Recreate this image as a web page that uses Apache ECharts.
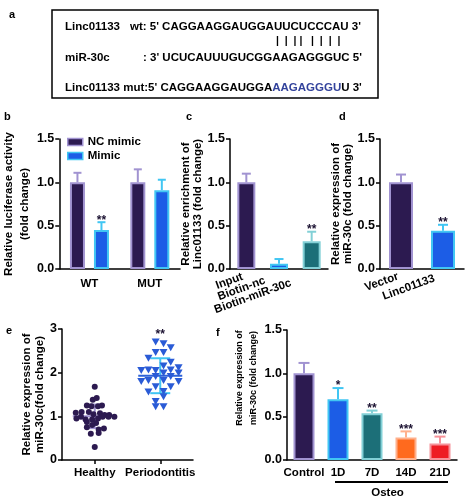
<!DOCTYPE html>
<html><head><meta charset="utf-8">
<script src="https://cdn.jsdelivr.net/npm/echarts@6/dist/echarts.min.js"></script>
<style>html,body{margin:0;padding:0;background:#fff}#c{width:472px;height:500px}</style>
</head><body><div id="c"></div>
<script>
// ---------- data ----------
// panel b
const bCategories = ['WT', 'MUT'];
const bSeriesNames = ['NC mimic', 'Mimic'];
const bNC = [1.0, 1.0];
const bNCsd = [0.11, 0.15];
const bMimic = [0.45, 0.91];
const bMimicSd = [0.09, 0.12];
const bMimicSig = ['**', ''];
// panel c
const cCategories = ['Input', 'Biotin-nc', 'Biotin-miR-30c'];
const cValues = [1.0, 0.06, 0.32];
const cSd = [0.10, 0.055, 0.11];
const cSig = ['', '', '**'];
// panel d
const dCategories = ['Vector', 'Linc01133'];
const dValues = [1.0, 0.44];
const dSd = [0.09, 0.07];
const dSig = ['', '**'];
// panel e (x = group position 1 or 2 plus jitter, y = value)
const eCategories = ['Healthy', 'Periodontitis'];
const eHealthy = [[1.00,1.68],[0.97,1.38],[1.03,1.42],[0.88,1.25],[0.95,1.23],[1.05,1.23],[1.11,1.25],
  [0.71,1.08],[0.80,1.10],[0.91,1.10],[0.98,1.05],[1.08,1.07],[1.15,1.03],[1.22,1.03],[1.30,0.99],
  [0.72,0.95],[0.79,0.99],[0.86,0.93],[0.96,0.93],[1.05,0.95],[1.12,0.99],[1.21,0.99],
  [0.88,0.87],[1.02,0.85],[0.88,0.75],[0.96,0.80],[1.06,0.70],[1.14,0.72],[0.94,0.60],[1.06,0.62],[1.00,0.30]];
const ePeriodontitis = [[1.93,2.70],[2.05,2.66],[2.16,2.57],[1.93,2.46],[2.05,2.46],[1.82,2.33],[2.16,2.24],[2.05,2.15],[2.28,2.11],
  [1.71,2.05],[1.82,2.06],[1.93,2.05],[2.16,2.06],[2.05,1.99],[2.28,1.99],[1.93,1.91],[2.16,1.91],
  [1.71,1.80],[1.82,1.82],[2.05,1.82],[2.28,1.80],[1.93,1.68],[2.16,1.68],[1.82,1.56],[2.05,1.57],[2.05,1.45],[1.93,1.34],[1.93,1.22],[2.05,1.22]];
const eMean = [1.00, 1.93];
const eSd = [0.27, 0.40];
const eSig = ['', '**'];
const eSigY = [null, 2.93];
// panel f
const fCategories = ['Control', '1D', '7D', '14D', '21D'];
const fValues = [1.0, 0.70, 0.54, 0.26, 0.19];
const fSd = [0.12, 0.13, 0.03, 0.07, 0.08];
const fSig = ['', '*', '**', '***', '***'];
const fGroupLabel = 'Osteo';
const fGroupSpan = ['1D', '21D'];

// ---------- styles ----------
const FF = '"Liberation Sans", Arial, sans-serif';
const PURPLE = {fill: '#2c1a50', edge: '#a193d1'};
const BLUE = {fill: '#1c5de6', edge: '#41c6f3'};
const TEAL = {fill: '#1c6f78', edge: '#82d0d6'};
const ORANGE = {fill: '#ff6a1e', edge: '#ffb08c'};
const RED = {fill: '#ee1c24', edge: '#f6929a'};
const cColors = [PURPLE, BLUE, TEAL];
const dColors = [PURPLE, BLUE];
const fColors = [PURPLE, BLUE, TEAL, ORANGE, RED];
const AX = {color: '#000', width: 1.5};
// slanted-label shifts along the text direction (px)
const cLabelShift = [4, 15, 22];
const dLabelShift = [3, 9];

function slantLabel(shifts) {
  const rich = {};
  shifts.forEach((s, i) => { rich['p' + i] = {padding: [0, s, 0, 0], fontFamily: FF, fontWeight: 'bold', fontSize: 11.5, color: '#000'}; });
  return {rotate: 20, margin: 6, rich: rich, formatter: (v, i) => '{p' + i + '|' + v + '}'};
}
function xCat(grid, data, label) {
  return {type: 'category', gridIndex: grid, data: data,
    axisLine: {lineStyle: AX}, axisTick: {alignWithLabel: true, length: 4, lineStyle: AX},
    axisLabel: Object.assign({color: '#000', fontFamily: FF, fontWeight: 'bold', fontSize: 11.5, margin: 7, interval: 0}, label || {}),
    splitLine: {show: false}};
}
function yVal(grid, max, interval, dec, name, nameGap, nts) {
  return {type: 'value', gridIndex: grid, min: 0, max: max, interval: interval,
    axisLine: {show: true, lineStyle: AX}, axisTick: {show: true, length: 4, lineStyle: AX},
    axisLabel: {color: '#000', fontFamily: FF, fontWeight: 'bold', fontSize: 12.5, margin: 5,
      formatter: v => v.toFixed(dec)},
    splitLine: {show: false},
    name: name, nameLocation: 'middle', nameRotate: 90, nameGap: nameGap,
    nameTextStyle: Object.assign({color: '#000', fontFamily: FF, fontWeight: 'bold', fontSize: 11.5, lineHeight: 13}, nts || {})};
}
function styledBars(values, colors) {
  return values.map((v, i) => ({value: v, itemStyle: {color: colors[i].fill, borderColor: colors[i].edge, borderWidth: 2}}));
}
function errSeries(ax, values, sds, sigs, colorOf, offset, cap) {
  return {type: 'custom', xAxisIndex: ax, yAxisIndex: ax, z: 4, silent: true, clip: false,
    data: values.map((v, i) => [i, v, v + sds[i]]),
    encode: {x: 0, y: [1, 2]},
    renderItem: (params, api) => {
      const i = params.dataIndex;
      const base = api.coord([api.value(0), api.value(1)]);
      const top = api.coord([api.value(0), api.value(2)]);
      const x = base[0] + offset;
      const col = colorOf(i);
      const ch = [
        {type: 'line', shape: {x1: x, y1: base[1], x2: x, y2: top[1]}, style: {stroke: col, lineWidth: 2}},
        {type: 'line', shape: {x1: x - cap, y1: top[1], x2: x + cap, y2: top[1]}, style: {stroke: col, lineWidth: 2}}
      ];
      if (sigs && sigs[i]) ch.push({type: 'text', style: {text: sigs[i], x: x, y: top[1] - 2, align: 'center', verticalAlign: 'middle',
        font: 'bold 12px ' + FF, fill: '#1a1030'}});
      return {type: 'group', children: ch};
    }};
}

const txt = (s, x, y, size, extra) => Object.assign({type: 'text', x: x, y: y,
  style: {text: s, font: 'bold ' + size + 'px ' + FF, fill: '#000', verticalAlign: 'middle'}}, extra || {});

const option = {
  animation: false,
  backgroundColor: '#fff',
  textStyle: {fontFamily: FF},
  graphic: [
    {type: 'rect', shape: {x: 52, y: 10, width: 326, height: 88}, style: {fill: 'none', stroke: '#000', lineWidth: 1.5}},
    txt('a', 9, 15, 11), txt('b', 4, 117, 11), txt('c', 186, 117, 11), txt('d', 339, 117, 11),
    txt('e', 6, 331, 11), txt('f', 216, 333, 11),
    txt('Linc01133', 65, 27, 11.5),
    txt("wt: 5' CAGGAAGGAUGGAUUCUCCCAU 3'", 130, 27, 11.5),
    txt('|  |  | |   |  |  |  |', 276, 41, 10.5),
    txt('miR-30c', 65, 58, 11.5),
    txt(": 3' UCUCAUUUGUCGGAAGAGGGUC 5'", 143, 58, 11.5),
    {type: 'text', x: 65, y: 88, style: {text: "Linc01133 mut:5' CAGGAAGGAUGGA{m|AAGAGGGU}U 3'",
      font: 'bold 11.5px ' + FF, fill: '#000', verticalAlign: 'middle',
      rich: {m: {fill: '#33439c', font: 'bold 11.5px ' + FF}}}}
  ],
  legend: {data: bSeriesNames, orient: 'vertical', left: 62, top: 131, itemWidth: 15, itemHeight: 7, itemGap: 2,
    icon: 'rect', itemStyle: {borderWidth: 1.5},
    textStyle: {color: '#000', fontFamily: FF, fontWeight: 'bold', fontSize: 11.5}},
  grid: [
    {left: 48, top: 139, width: 132, height: 130},
    {left: 230, top: 139, width: 98, height: 130},
    {left: 380, top: 139, width: 84, height: 130},
    {left: 62, top: 329, width: 131, height: 131},
    {left: 287, top: 330, width: 170, height: 130}
  ],
  xAxis: [
    xCat(0, bCategories, {margin: 9}),
    xCat(1, cCategories, slantLabel(cLabelShift)),
    xCat(2, dCategories, slantLabel(dLabelShift)),
    {type: 'value', gridIndex: 3, min: 0.5, max: 2.5,
      axisLine: {lineStyle: AX}, axisTick: {show: true, length: 4, lineStyle: AX, customValues: [1, 2]},
      axisLabel: {color: '#000', fontFamily: FF, fontWeight: 'bold', fontSize: 11.5, margin: 7, customValues: [1, 2],
        formatter: v => eCategories[Math.round(v) - 1] || ''},
      splitLine: {show: false}},
    xCat(4, fCategories, {margin: 7})
  ],
  yAxis: [
    yVal(0, 1.5, 0.5, 1, 'Relative luciferase activity\n(fold change)', 18, {lineHeight: 16}),
    yVal(1, 1.5, 0.5, 1, 'Relative enrichment of\nLinc01133 (fold change)', 20, {lineHeight: 12}),
    yVal(2, 1.5, 0.5, 1, 'Relative expression of\nmiR-30c (fold change)', 22, {lineHeight: 12}),
    yVal(3, 3, 1, 0, 'Relative expression of\nmiR-30c(fold change)', 16, {lineHeight: 13}),
    yVal(4, 1.5, 0.5, 1, 'Relative expression of\nmiR-30c (fold change)', 25, {fontSize: 9, lineHeight: 14, padding: [0, 0, 0, 34]})
  ],
  series: [
    // b
    {name: bSeriesNames[0], type: 'bar', xAxisIndex: 0, yAxisIndex: 0, data: bNC, barWidth: 15, barGap: '60%',
      itemStyle: {color: PURPLE.fill, borderColor: PURPLE.edge, borderWidth: 2}},
    {name: bSeriesNames[1], type: 'bar', xAxisIndex: 0, yAxisIndex: 0, data: bMimic, barWidth: 15, barGap: '60%',
      itemStyle: {color: BLUE.fill, borderColor: BLUE.edge, borderWidth: 2}},
    errSeries(0, bNC, bNCsd, null, () => PURPLE.edge, -12, 4),
    errSeries(0, bMimic, bMimicSd, bMimicSig, () => BLUE.edge, 12, 4),
    // c
    {type: 'bar', xAxisIndex: 1, yAxisIndex: 1, data: styledBars(cValues, cColors), barWidth: 18},
    errSeries(1, cValues, cSd, cSig, i => cColors[i].edge, 0, 4.5),
    // d
    {type: 'bar', xAxisIndex: 2, yAxisIndex: 2, data: styledBars(dValues, dColors), barWidth: 24},
    errSeries(2, dValues, dSd, dSig, i => dColors[i].edge, 0, 5),
    // e
    {type: 'custom', xAxisIndex: 3, yAxisIndex: 3, z: 1, silent: true, clip: false,
      data: eMean.map((m, i) => [i + 1, m, eSd[i]]), encode: {x: 0, y: 1},
      renderItem: (params, api) => {
        const i = params.dataIndex;
        const xv = api.value(0), m = api.value(1), s = api.value(2);
        const c = api.coord([xv, m]), t = api.coord([xv, m + s]), b = api.coord([xv, m - s]);
        const sdCol = i === 0 ? PURPLE.edge : BLUE.edge;
        const meanCol = i === 0 ? PURPLE.edge : '#2d62d8';
        const ch = [
          {type: 'line', shape: {x1: c[0], y1: t[1], x2: c[0], y2: b[1]}, style: {stroke: sdCol, lineWidth: 2}},
          {type: 'line', shape: {x1: c[0] - 10, y1: t[1], x2: c[0] + 10, y2: t[1]}, style: {stroke: sdCol, lineWidth: 2}},
          {type: 'line', shape: {x1: c[0] - 10, y1: b[1], x2: c[0] + 10, y2: b[1]}, style: {stroke: sdCol, lineWidth: 2}},
          {type: 'line', shape: {x1: c[0] - 22, y1: c[1], x2: c[0] + 22, y2: c[1]}, style: {stroke: meanCol, lineWidth: 2}}
        ];
        if (eSig[i]) {
          const p = api.coord([xv, eSigY[i]]);
          ch.push({type: 'text', style: {text: eSig[i], x: p[0], y: p[1] + 3, align: 'center', verticalAlign: 'middle',
            font: 'bold 12px ' + FF, fill: '#1a1030'}});
        }
        return {type: 'group', children: ch};
      }},
    {type: 'scatter', xAxisIndex: 3, yAxisIndex: 3, z: 2, data: eHealthy, symbol: 'circle', symbolSize: 6,
      itemStyle: {color: '#2c1a50', opacity: 1}},
    {type: 'scatter', xAxisIndex: 3, yAxisIndex: 3, z: 2, data: ePeriodontitis, symbol: 'triangle', symbolRotate: 180, symbolSize: [8, 7],
      itemStyle: {color: '#2a5bd6', opacity: 1}},
    // f
    {type: 'bar', xAxisIndex: 4, yAxisIndex: 4, data: styledBars(fValues, fColors), barWidth: 21},
    errSeries(4, fValues, fSd, fSig, i => fColors[i].edge, 0, 5.5),
    {type: 'custom', xAxisIndex: 4, yAxisIndex: 4, silent: true, clip: false, z: 5,
      data: [[fCategories.indexOf(fGroupSpan[0]), fCategories.indexOf(fGroupSpan[1])]], encode: {x: 0},
      renderItem: (params, api) => {
        const a = api.coord([api.value(0), 0]);
        const b = api.coord([api.value(1), 0]);
        const x1 = a[0] - 3, x2 = b[0] + 8, y = a[1] + 22;
        return {type: 'group', children: [
          {type: 'line', shape: {x1: x1, y1: y, x2: x2, y2: y}, style: {stroke: '#000', lineWidth: 2}},
          {type: 'text', style: {text: fGroupLabel, x: (x1 + x2) / 2 - 4, y: y + 11, align: 'center', verticalAlign: 'middle',
            font: 'bold 11.5px ' + FF, fill: '#000'}}
        ]};
      }}
  ]
};

const chart = echarts.init(document.getElementById('c'), null, {renderer: 'canvas'});
chart.setOption(option);
</script>
</body></html>
